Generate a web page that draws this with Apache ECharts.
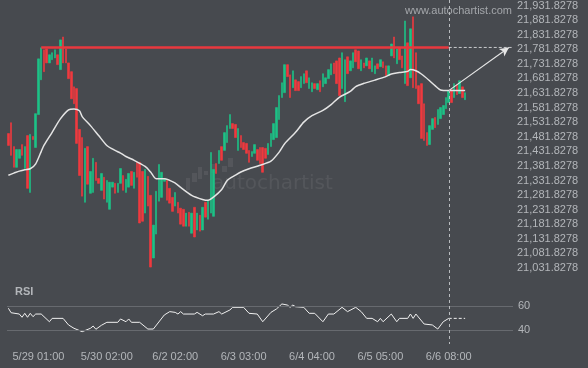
<!DOCTYPE html>
<html><head><meta charset="utf-8">
<script src="https://cdn.jsdelivr.net/npm/echarts@6/dist/echarts.min.js"></script>
<style>html,body{margin:0;padding:0;background:#474a4f;}#c{width:588px;height:368px;}</style>
</head><body><div id="c"></div>
<script>
// ---- data ----
const opens = [21493,21530,21448,21377,21408,21455,21373,21486,21291,21483,21445,21558,21677,21780,21783,21735,21746,21752,21763,21712,
21824,21783,21735,21705,21653,21647,21507,21479,21257,21448,21288,21291,21394,21339,21298,21343,21257,21233,21309,21322,
21291,21322,21349,21291,21309,21363,21305,21394,21394,21363,21220,21346,21281,21066,21148,21261,21274,21329,21332,21305,
21274,21244,21257,21237,21233,21175,21223,21151,21240,21162,21213,21162,21257,21199,21220,21209,21390,21390,21448,21435,
21462,21510,21527,21524,21435,21486,21462,21459,21435,21414,21425,21438,21445,21445,21442,21421,21448,21472,21479,21541,
21616,21633,21729,21694,21650,21677,21671,21650,21664,21708,21647,21636,21664,21643,21674,21653,21664,21681,21694,21735,
21742,21752,21647,21602,21756,21708,21718,21780,21776,21708,21735,21725,21742,21705,21698,21732,21722,21739,21725,21691,
21759,21824,21732,21787,21759,21664,21804,21684,21893,21770,21657,21664,21595,21496,21455,21507,21548,21524,21544,21558,
21578,21599,21643,21616,21660,21630,21653,21609];
const closes = [21452,21418,21377,21438,21438,21418,21448,21305,21490,21472,21561,21749,21787,21705,21735,21763,21770,21780,21729,21814,
21735,21735,21681,21612,21595,21459,21349,21278,21442,21319,21363,21408,21332,21322,21356,21268,21332,21326,21326,21288,
21322,21373,21298,21336,21356,21315,21360,21343,21186,21192,21370,21244,21035,21179,21295,21387,21360,21339,21264,21254,
21226,21291,21220,21182,21175,21220,21175,21220,21138,21220,21158,21240,21206,21264,21428,21370,21356,21435,21401,21496,
21520,21558,21510,21479,21510,21445,21438,21425,21394,21431,21455,21401,21390,21360,21408,21459,21493,21527,21582,21623,
21667,21729,21688,21616,21708,21640,21640,21688,21698,21667,21684,21667,21647,21664,21636,21698,21684,21712,21732,21698,
21664,21623,21770,21746,21698,21742,21770,21739,21715,21746,21718,21752,21715,21752,21725,21715,21746,21718,21691,21725,
21800,21752,21783,21746,21718,21879,21657,21852,21650,21647,21595,21476,21469,21452,21520,21544,21513,21575,21582,21589,
21616,21640,21599,21664,21626,21674,21616,21633];
const maIdx = [0,2,4,6,8,10,12,13,16,19,22,24,26,27,30,33,36,39,41,43,46,50,52,54,57,61,63,67,71,73,75,78,80,83,85,88,92,96,99,101,105,108,111,115,118,121,125,127,130,134,138,140,143,146,147,149,151,154,156,158,161,167];
const maVal = [21350,21357,21364,21369,21372,21389,21431,21452,21497,21543,21574,21577,21571,21551,21520,21486,21452,21435,21426,21414,21401,21380,21361,21338,21338,21323,21308,21281,21267,21264,21275,21301,21332,21350,21361,21372,21384,21398,21429,21458,21497,21532,21554,21572,21592,21617,21637,21654,21665,21676,21688,21697,21702,21706,21712,21708,21697,21674,21657,21642,21640,21640];
const rsiIdx = [0,1,4,5,6,7,8,9,10,12,15,16,20,22,24,27,30,31,32,34,36,40,41,43,44,45,48,51,53,57,59,61,62,63,64,68,69,71,72,75,77,78,81,82,86,88,91,93,96,98,100,102,103,104,105,108,110,112,115,117,119,122,124,127,129,131,133,135,136,137,140,142,143,146,147,148,149,152,155,157,159,161,167];
const rsiVal = [58.1,54.4,53.3,50.6,53.9,50.6,53.9,51.1,53.3,53.3,46.9,49.7,49.7,44.2,41.4,38.6,41.4,43.3,40.6,43.9,46.4,46.4,49.2,46.9,49.2,46.4,46.4,40.8,40.8,52.5,55.3,54.7,53.3,55.3,53.3,53.3,54.7,51.9,53.3,53.3,55.3,53.3,56.7,58.9,58.9,53.9,53.3,46.9,54.7,57.5,61.7,60.8,58.9,60.8,59.4,58.9,53.9,53.9,46.9,53.3,53.3,58.9,55.3,58.9,55.3,49.7,49.7,46.9,49.7,46.9,53.3,46.9,49.7,49.7,53.3,49.7,53.3,45,44.2,40.8,46.9,49.7,49.7];
const tickIndex = [11,36,61,86,111,136,161];
const tickLabels = ['5/29 01:00','5/30 02:00','6/2 02:00','6/3 03:00','6/4 04:00','6/5 05:00','6/6 08:00'];
const resistance = 21788, resStartIdx = 12, currentIdx = 161, projEndIdx = 184;
const arrowFrom = 21640, arrowTo = 21788, arrowEndIdx = 183;
const priceBase = 21031.8278, priceStep = 50, priceSteps = 18;
const rsiShown = [40, 60];
const nCats = 185;

// ---- build ----
const cats = Array.from({length: nCats}, (_, i) => String(i));
const rel = v => v - priceBase;
const candles = opens.map((o, i) => {
  const c = closes[i];
  return [rel(o), rel(c), rel(Math.min(o, c)), rel(Math.max(o, c))];
});
const maData = maIdx.map((ix, k) => [ix, rel(maVal[k])]);
const rsiSolid = [], rsiDash = [];
rsiIdx.forEach((ix, k) => {
  if (ix <= currentIdx) rsiSolid.push([ix, rsiVal[k]]);
  if (ix >= currentIdx) rsiDash.push([ix, rsiVal[k]]);
});
function fmtPrice(v) {
  const s = (v + priceBase).toFixed(4).split('.');
  return s[0].replace(/\B(?=(\d{3})+(?!\d))/g, ',') + '.' + s[1];
}
const labelColor = '#b3b6ba';
const font = 'Liberation Sans, Arial, sans-serif';

const chart = echarts.init(document.getElementById('c'), null, {renderer: 'canvas'});
const option = {
  animation: false,
  backgroundColor: '#474a4f',
  grid: [
    {left: 7, top: 4.5, width: 506, height: 263.5},
    {left: 7, top: 294, width: 506, height: 48}
  ],
  xAxis: [
    {type: 'category', gridIndex: 0, data: cats, boundaryGap: true,
     axisLine: {show: false}, axisTick: {show: false}, axisLabel: {show: false}, splitLine: {show: false}},
    {type: 'category', gridIndex: 1, data: cats, boundaryGap: true,
     axisLine: {show: false}, axisTick: {show: false}, splitLine: {show: false},
     axisLabel: {show: true, color: labelColor, fontSize: 11, fontFamily: font, margin: 9,
       interval: (i) => tickIndex.indexOf(i) >= 0,
       formatter: (v, i) => { const k = tickIndex.indexOf(Number(v)); return k >= 0 ? tickLabels[k] : ''; }}}
  ],
  yAxis: [
    {type: 'value', gridIndex: 0, position: 'right', min: 0, max: priceStep * priceSteps, interval: priceStep,
     axisLine: {show: false}, axisTick: {show: false}, splitLine: {show: false},
     axisLabel: {color: labelColor, fontSize: 11, fontFamily: font, margin: 4, formatter: fmtPrice}},
    {type: 'value', gridIndex: 1, position: 'right', min: 30, max: 70, interval: 10,
     axisLine: {show: false}, axisTick: {show: false}, splitLine: {show: false},
     axisLabel: {color: labelColor, fontSize: 11, fontFamily: font, margin: 5,
       formatter: v => rsiShown.indexOf(v) >= 0 ? String(v) : ''}}
  ],
  graphic: [
    {type: 'text', left: 405, top: 5, z: 1, style: {text: 'www.autochartist.com', fill: '#a4a7ab', font: '11px ' + font}},
    {type: 'text', left: 212, top: 174, z: 0, style: {text: 'autochartist', fill: 'rgba(255,255,255,0.07)', font: '20px DejaVu Sans, sans-serif'}},
    {type: 'rect', z: 0, shape: {x: 186, y: 178, width: 4, height: 12}, style: {fill: 'rgba(255,255,255,0.07)'}},
    {type: 'rect', z: 0, shape: {x: 192, y: 173, width: 5, height: 9}, style: {fill: 'rgba(255,255,255,0.07)'}},
    {type: 'rect', z: 0, shape: {x: 198, y: 167, width: 4, height: 12}, style: {fill: 'rgba(255,255,255,0.07)'}},
    {type: 'rect', z: 0, shape: {x: 204, y: 171, width: 4, height: 4}, style: {fill: 'rgba(255,255,255,0.07)'}},
    {type: 'rect', z: 0, shape: {x: 211, y: 164, width: 4, height: 9}, style: {fill: 'rgba(255,255,255,0.07)'}},
    {type: 'rect', z: 0, shape: {x: 222, y: 166, width: 5, height: 6}, style: {fill: 'rgba(255,255,255,0.07)'}},
    {type: 'rect', z: 0, shape: {x: 228, y: 158, width: 5, height: 9}, style: {fill: 'rgba(255,255,255,0.07)'}},
    {type: 'text', left: 15, top: 286, style: {text: 'RSI', fill: labelColor, font: 'bold 11px ' + font}}
  ],
  series: [
    {type: 'candlestick', xAxisIndex: 0, yAxisIndex: 0, data: candles, barWidth: 2, z: 3,
     itemStyle: {color: '#1cc286', color0: '#f0393e', borderColor: '#1cc286', borderColor0: '#f0393e', borderWidth: 0.6}},
    {type: 'line', xAxisIndex: 0, yAxisIndex: 0, data: maData, symbol: 'none', smooth: 0.25, z: 4,
     lineStyle: {color: '#e4e4e4', width: 1.5}},
    {type: 'line', xAxisIndex: 0, yAxisIndex: 0, data: [[resStartIdx, rel(resistance)], [currentIdx, rel(resistance)]],
     symbol: 'none', z: 5, lineStyle: {color: '#e9383e', width: 2.5}},
    {type: 'line', xAxisIndex: 0, yAxisIndex: 0, data: [[currentIdx, rel(resistance)], [projEndIdx, rel(resistance)]],
     symbol: 'none', z: 5, lineStyle: {color: '#c9cbce', width: 1, type: [3, 2]},
     markLine: {silent: true, symbol: ['none', 'arrow'], symbolSize: [7, 9], label: {show: false},
       lineStyle: {color: '#e6e6e6', width: 1.2, type: 'solid'},
       data: [[{coord: [currentIdx, rel(arrowFrom)]}, {coord: [arrowEndIdx, rel(arrowTo)]}]]}},
    {type: 'line', xAxisIndex: 1, yAxisIndex: 1, data: rsiSolid, symbol: 'none', z: 4,
     lineStyle: {color: '#f0f0f0', width: 1},
     markLine: {silent: true, symbol: ['none', 'none'], label: {show: false},
       lineStyle: {color: '#676a6f', width: 1, type: 'solid'},
       data: rsiShown.map(v => ({yAxis: v}))}},
    {type: 'line', xAxisIndex: 1, yAxisIndex: 1, data: rsiDash, symbol: 'none', z: 4,
     lineStyle: {color: '#f0f0f0', width: 1, type: [3, 2]}}
  ]
};
chart.setOption(option);
const vx = chart.convertToPixel({xAxisIndex: 0}, String(currentIdx));
const g = option.graphic.slice();
g.push({type: 'line', z: 10, shape: {x1: Math.round(vx) + 0.5, y1: 0, x2: Math.round(vx) + 0.5, y2: 344},
  style: {stroke: '#b9bcbf', lineWidth: 1, lineDash: [3, 3]}});
chart.setOption({graphic: g}, {replaceMerge: ['graphic']});
</script></body></html>
